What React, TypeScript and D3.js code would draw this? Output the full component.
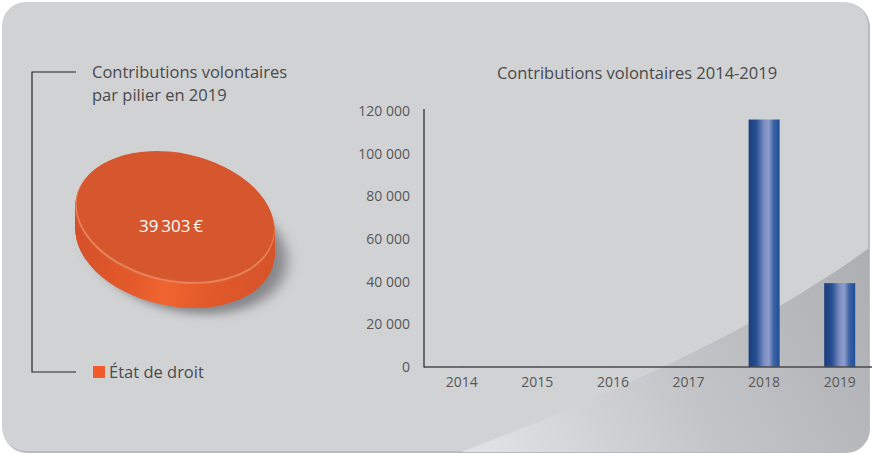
import React from "react";
import * as d3 from "d3";

const years = ["2014", "2015", "2016", "2017", "2018", "2019"];
const contributions = [0, 0, 0, 0, 116000, 39303];
const yTicks = [0, 20000, 40000, 60000, 80000, 100000, 120000];
const pillars = ["État de droit"];
const pillarValues = [39303];
const pillarLabels = ["39\u2009303\u2009€"];

const W = 872;
const H = 455;
const FONT = "'Open Sans', 'Noto Sans', sans-serif";

export default function App() {
  const x = d3.scaleBand<string>().domain(years).range([424, 877.5]).paddingInner(0.59).paddingOuter(0.295);
  const y = d3.scaleLinear().domain([0, 120000]).range([367, 111]);
  const fmt = (v: number) => d3.format(",")(v).replace(/,/g, " ");

  const pie = d3.pie<number>().sort(null)(pillarValues);
  const a = 101, b = 64, rot = 12, thick = 24;
  const cx = 175, cy = 218;
  const arc = d3.arc<d3.PieArcDatum<number>>().innerRadius(0).outerRadius(a);
  const sy = b / a;

  return (
    <svg width={W} height={H} style={{ position: "absolute", left: 0, top: 0 }} fontFamily={FONT}>
      <defs>
        <linearGradient id="barGrad" x1="0" x2="1" y1="0" y2="0">
          <stop offset="0" stopColor="#1b3c7c" />
          <stop offset="0.25" stopColor="#264f93" />
          <stop offset="0.5" stopColor="#7d8fc2" />
          <stop offset="0.65" stopColor="#8e9dcb" />
          <stop offset="0.8" stopColor="#3f64a6" />
          <stop offset="1" stopColor="#1d4d98" />
        </linearGradient>
        <linearGradient id="curveGrad" x1="500" y1="455" x2="872" y2="250" gradientUnits="userSpaceOnUse">
          <stop offset="0" stopColor="#dfe0e2" />
          <stop offset="0.45" stopColor="#c4c5c8" />
          <stop offset="1" stopColor="#adaeb1" />
        </linearGradient>
        <linearGradient id="sideGrad" x1="0" x2="1" y1="0" y2="0">
          <stop offset="0" stopColor="#d4502a" />
          <stop offset="0.35" stopColor="#e45a2b" />
          <stop offset="0.5" stopColor="#f0652f" />
          <stop offset="0.7" stopColor="#e35a2b" />
          <stop offset="1" stopColor="#d6532a" />
        </linearGradient>
        <filter id="shadow" x="-30%" y="-30%" width="160%" height="160%">
          <feGaussianBlur stdDeviation="7" />
        </filter>
        <clipPath id="panelClip">
          <rect x={2} y={2} width={867} height={450} rx={24} />
        </clipPath>
      </defs>

      <rect x={0} y={0} width={W} height={H} fill="#ffffff" />
      <rect x={3} y={3} width={867} height={450} rx={24} fill="#b9babd" />
      <rect x={2} y={2} width={866} height={449} rx={24} fill="#d1d2d4" />
      <g clipPath="url(#panelClip)">
        <path d="M 440 460 C 600 400, 760 330, 880 240 L 880 460 Z" fill="url(#curveGrad)" />
      </g>

      {/* Left panel */}
      <path d="M 76 72 H 32 V 372 H 76" fill="none" stroke="#222" strokeWidth={1.2} />
      <text x={92} y={78} fontSize={16.5} fill="#4a4a4c">Contributions volontaires</text>
      <text x={92} y={101} fontSize={16.5} fill="#4a4a4c">par pilier en 2019</text>

      {/* 3D pie */}
      <g transform={`translate(${cx + 12},${cy + thick + 6}) rotate(${rot}) scale(1,${sy})`} filter="url(#shadow)">
        <ellipse cx={0} cy={0} rx={a} ry={a} fill="#6d6e71" opacity={0.75} />
      </g>
      {pie.map((d, i) => (
        <g key={"side" + i}>
          {d3.range(0, thick + 1, 1).map((k) => (
            <g key={k} transform={`translate(${cx},${cy + k}) rotate(${rot}) scale(1,${sy})`}>
              <path d={arc(d) || ""} fill={k === 0 ? "#eb9670" : "url(#sideGrad)"} />
            </g>
          ))}
        </g>
      ))}
      {pie.map((d, i) => (
        <g key={"top" + i} transform={`translate(${cx},${cy}) rotate(${rot}) scale(1,${sy})`}>
          <path d={arc(d) || ""} fill="#e5825a" />
          <path d={arc(d) || ""} fill="#d6562d" transform="translate(0,-2.5) scale(0.99)" />
        </g>
      ))}
      {pillarLabels.map((t, i) => (
        <text key={i} x={171} y={232} fontSize={17} fill="#ffffff" textAnchor="middle">{t}</text>
      ))}

      {/* legend */}
      {pillars.map((p, i) => (
        <g key={p}>
          <rect x={93} y={366} width={12} height={12} fill="#f15a29" />
          <text x={109} y={378} fontSize={16.5} fill="#4a4a4c">{p}</text>
        </g>
      ))}

      {/* Bar chart */}
      <text x={637} y={79} fontSize={16.5} fill="#4a4a4c" textAnchor="middle">Contributions volontaires 2014-2019</text>
      {yTicks.map((t) => (
        <text key={t} x={410} y={y(t) + 5} fontSize={14} fill="#58585a" textAnchor="end">{fmt(t)}</text>
      ))}
      {years.map((yr, i) => (
        <rect key={yr} x={x(yr)} y={y(contributions[i])} width={x.bandwidth()} height={Math.max(0, y(0) - y(contributions[i]))} fill="url(#barGrad)" />
      ))}
      {years.map((yr) => (
        <line key={"tk" + yr} x1={x(yr)! + x.bandwidth() / 2} x2={x(yr)! + x.bandwidth() / 2} y1={y(0) - 1} y2={y(0)} stroke="#7a86b8" />
      ))}
      <line x1={424} x2={424} y1={109} y2={367.5} stroke="#222" strokeWidth={1.2} />
      <line x1={424} x2={872} y1={367} y2={367} stroke="#4a4a4c" strokeWidth={1.5} />
      {years.map((yr) => (
        <text key={"xl" + yr} x={x(yr)! + x.bandwidth() / 2} y={387} fontSize={14} fill="#58585a" textAnchor="middle">{yr}</text>
      ))}
    </svg>
  );
}
